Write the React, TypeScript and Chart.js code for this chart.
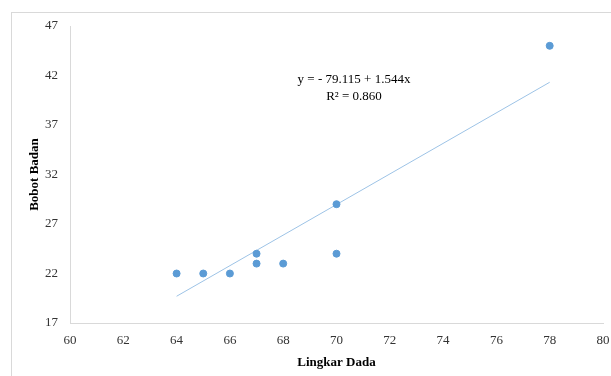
import React, { useEffect, useRef } from "react";
import { Chart, registerables } from "chart.js";
Chart.register(...registerables);

const lingkarDada = [64, 65, 66, 67, 67, 68, 70, 70, 78];
const bobotBadan = [22, 22, 22, 24, 23, 23, 29, 24, 45];
const trendX = [64, 78];
const intercept = -79.115;
const slope = 1.544;
const equationText = "y = - 79.115 + 1.544x";
const r2Text = "R² = 0.860";

const serif = "'Liberation Serif', 'Times New Roman', serif";

export default function App() {
  const ref = useRef<HTMLCanvasElement>(null);
  useEffect(() => {
    document.body.style.margin = "0";
    const ctx = ref.current!.getContext("2d")!;
    const annot = {
      id: "annot",
      afterDatasetsDraw(chart: any) {
        const c = chart.ctx;
        c.save();
        c.fillStyle = "#000";
        c.font = `13px ${serif}`;
        c.textAlign = "center";
        c.textBaseline = "middle";
        c.fillText(equationText, 354, 80);
        c.fillText(r2Text, 354, 97);
        c.restore();
      },
    };
    const chart = new Chart(ctx, {
      type: "scatter",
      data: {
        datasets: [
          {
            type: "scatter",
            data: lingkarDada.map((x, i) => ({ x, y: bobotBadan[i] })),
            backgroundColor: "#5b9bd5",
            borderColor: "#5b9bd5",
            pointRadius: 3.5,
            order: 1,
          },
          {
            type: "line",
            data: trendX.map((x) => ({ x, y: intercept + slope * x })),
            borderColor: "#9dc3e6",
            borderWidth: 1,
            pointRadius: 0,
            fill: false,
            order: 2,
          } as any,
        ],
      },
      options: {
        animation: false,
        responsive: false,
        layout: { padding: { top: 26, right: 0, left: 0, bottom: 0 } },
        plugins: { legend: { display: false }, tooltip: { enabled: false } },
        scales: {
          x: {
            type: "linear",
            min: 60,
            max: 80,
            ticks: { stepSize: 2, color: "#333333", font: { family: serif, size: 13 }, padding: 10 },
            grid: { display: true, color: "rgba(0,0,0,0)", drawTicks: false },
            border: { display: true, color: "#d9d9d9" },
            title: {
              display: true,
              text: "Lingkar Dada",
              color: "#000",
              font: { family: serif, size: 13, weight: "bold" },
              padding: { top: 4, bottom: 6 },
            },
            afterFit(scale: any) {
              scale.height = 53;
              scale.paddingRight = 8;
              scale.paddingLeft = 0;
            },
          },
          y: {
            type: "linear",
            min: 17,
            max: 47,
            ticks: { stepSize: 5, color: "#333333", font: { family: serif, size: 13 }, padding: 12 },
            grid: { display: true, color: "rgba(0,0,0,0)", drawTicks: false },
            border: { display: true, color: "#d9d9d9" },
            title: {
              display: true,
              text: "Bobot Badan",
              color: "#000",
              font: { family: serif, size: 13, weight: "bold" },
              padding: { top: 27, bottom: 0 },
            },
            afterFit(scale: any) {
              scale.width = 70;
            },
          },
        },
      },
      plugins: [annot],
    });
    return () => chart.destroy();
  }, []);
  return (
    <div style={{ position: "relative", width: 611, height: 376, overflow: "hidden", background: "#fff" }}>
      <div
        style={{
          position: "absolute",
          left: 11,
          top: 12,
          width: 640,
          height: 400,
          border: "1px solid #d9d9d9",
        }}
      />
      <canvas ref={ref} width={611} height={376} style={{ position: "absolute", left: 0, top: 0 }} />
    </div>
  );
}
